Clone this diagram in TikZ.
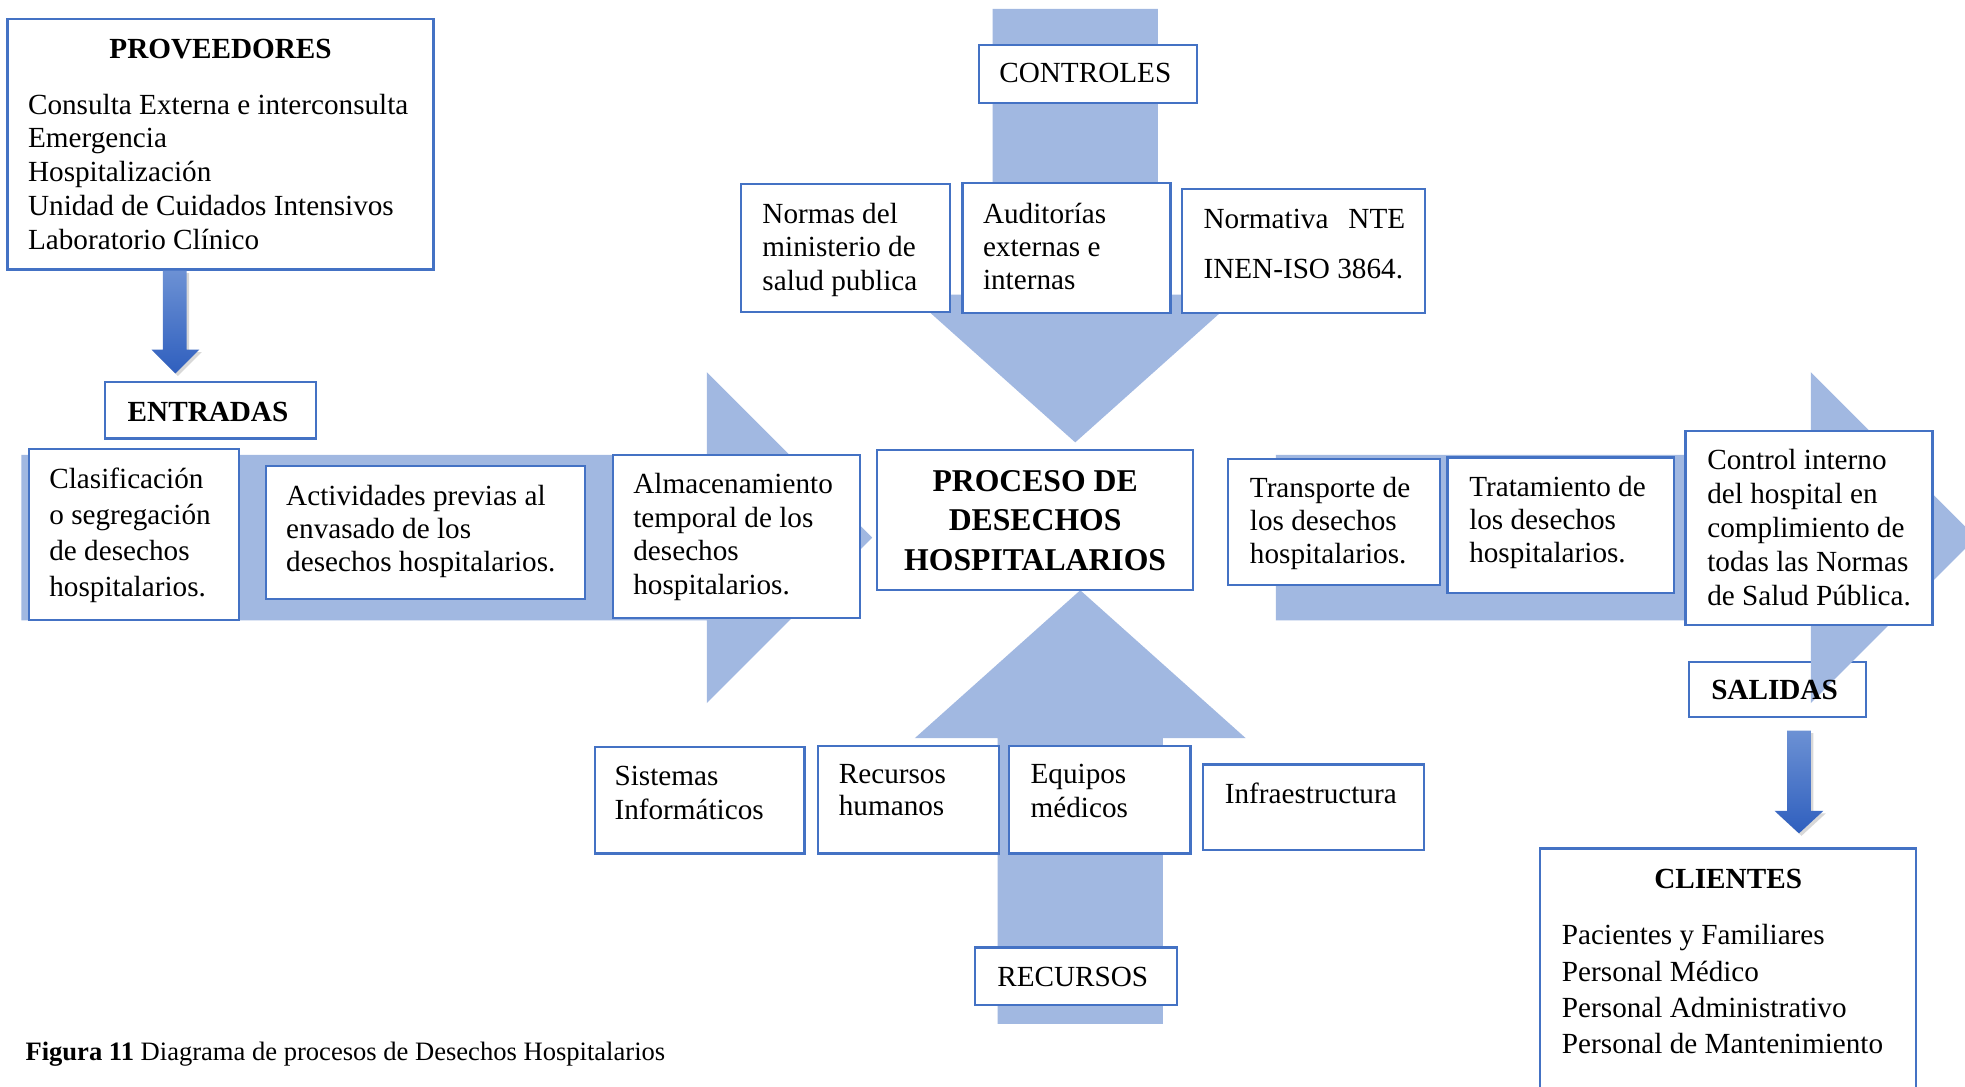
\documentclass[tikz,border=0pt]{standalone}
\usepackage{fontspec}
\setmainfont{Liberation Serif}
\usetikzlibrary{fit,shadows}
\definecolor{flow}{RGB}{161,184,225}
\definecolor{edge}{RGB}{68,114,196}
\definecolor{dropA}{RGB}{108,145,212}
\definecolor{dropB}{RGB}{47,95,190}
% multi-line text block whose base anchor is the first baseline
\newcommand\textlines[2]{\fontsize{11.65}{#1}\selectfont\begin{tabular}[t]{@{}l@{}}#2\end{tabular}}
\tikzset{
  box/.style={draw=edge, line width=0.9pt, fill=white, inner sep=0pt},
  openbox/.style={draw=edge, line width=0.9pt, inner sep=0pt},
  body/.style={anchor=base west, inner sep=0pt, font=\fontsize{11.65}{13.5}\selectfont},
  heading/.style={anchor=base, inner sep=0pt, font=\fontsize{11.65}{13.5}\selectfont\bfseries},
  plainhead/.style={anchor=base, inner sep=0pt, font=\fontsize{11.65}{13.5}\selectfont},
  flowarrow/.style={fill=flow, draw=none},
  droparrow/.style={top color=dropA, bottom color=dropB, draw=none,
    drop shadow={opacity=0.3, shadow xshift=1pt, shadow yshift=-1pt}}
}
\begin{document}
\begin{tikzpicture}[x=0.5pt, y=-0.5pt]
\useasboundingbox (0,0) rectangle (1568,867);
\clip (0,0) rectangle (1568,867);
\fill[white] (0,0) rectangle (1568,867);

% outputs frame, lying under the right-hand arrow head
\node[openbox, fit={(1348,528) (1489,572)}] (sal) {};

% wide background arrows
\path[flowarrow] (792,7) -- (924,7) -- (924,235) -- (990,235) -- (858,353)
  -- (726,235) -- (792,235) -- cycle;
\path[flowarrow] (796,817) -- (928,817) -- (928,589) -- (994,589) -- (862,471)
  -- (730,589) -- (796,589) -- cycle;
\path[flowarrow] (17,363) -- (564,363) -- (564,297) -- (696,429) -- (564,561)
  -- (564,495) -- (17,495) -- cycle;
\path[flowarrow] (1018,363) -- (1445,363) -- (1445,297) -- (1577,429) -- (1445,561)
  -- (1445,495) -- (1018,495) -- cycle;

% suppliers
\node[box, fit={(6,15) (346,215)}] (prov) {};
\node[heading] (provT) at (176,47) {PROVEEDORES};
\node[body] (provL) at (22,91) {\textlines{13.5}{Consulta Externa e interconsulta\\Emergencia\\Hospitalización\\Unidad de Cuidados Intensivos\\Laboratorio Clínico}};

\path[droparrow] (130,216) -- (149,216) -- (149,279) -- (159,279) -- (140,298)
  -- (121,279) -- (130,279) -- cycle;

% inputs
\node[box, fit={(84,305) (252,350)}] (entr) {};
\node[heading] (entrT) at (166,336) {ENTRADAS};

\node[box, fit={(23,358) (191,495)}] (clas) {};
\node[body] (clasL) at (39,390) {\textlines{14.35}{Clasificación\\o segregación\\de desechos\\hospitalarios.}};

\node[box, fit={(212,372) (467,478)}] (act) {};
\node[body] (actL) at (228,403) {\textlines{13.25}{Actividades previas al\\envasado de los\\desechos hospitalarios.}};

\node[box, fit={(489,363) (686,493)}] (alm) {};
\node[body] (almL) at (505,394) {\textlines{13.35}{Almacenamiento\\temporal de los\\desechos\\hospitalarios.}};

% central process
\node[box, fit={(700,359) (952,471)}] (proc) {};
\node[anchor=base, inner sep=0pt] (procT) at (826,392)
  {\fontsize{12.65}{15.75}\selectfont\bfseries\begin{tabular}[t]{@{}c@{}}PROCESO DE\\DESECHOS\\HOSPITALARIOS\end{tabular}};

% controls
\node[box, fit={(781,36) (955,82)}] (ctrl) {};
\node[plainhead] (ctrlT) at (866,66) {CONTROLES};

\node[box, fit={(591,147) (758,249)}] (normas) {};
\node[body] (normasL) at (608,178) {\textlines{13.5}{Normas del\\ministerio de\\salud publica}};

\node[box, fit={(768,146) (934,250)}] (audit) {};
\node[body] (auditL) at (784,178) {\textlines{13.25}{Auditorías\\externas e\\internas}};

\node[box, fit={(943,151) (1137,250)}] (nte) {};
\node[body] (nteL) at (960,182) {\textlines{20}{Normativa\hspace{8pt}NTE\\INEN-ISO 3864.}};

% outputs
\node[box, fit={(980,366) (1149,467)}] (trans) {};
\node[body] (transL) at (997,397) {\textlines{13.25}{Transporte de\\los desechos\\hospitalarios.}};

\node[box, fit={(1155,365) (1336,473)}] (trat) {};
\node[body] (tratL) at (1172,396) {\textlines{13.25}{Tratamiento de\\los desechos\\hospitalarios.}};

\node[box, fit={(1345,344) (1542,499)}] (ctlint) {};
\node[body] (ctlintL) at (1362,375) {\textlines{13.5}{Control interno\\del hospital en\\complimiento de\\todas las Normas\\de Salud Pública.}};

\node[heading] (salT) at (1416,558) {SALIDAS};

\path[droparrow] (1426,583) -- (1445,583) -- (1445,647) -- (1455,647) -- (1435.5,665)
  -- (1416,647) -- (1426,647) -- cycle;

% customers
\node[box, fit={(1229,677) (1529,890)}] (cli) {};
\node[heading] (cliT) at (1379,709) {CLIENTES};
\node[body] (cliL) at (1246,754) {\textlines{14.5}{Pacientes y Familiares\\Personal Médico\\Personal Administrativo\\Personal de Mantenimiento}};

% resources
\node[box, fit={(475,596) (642,681)}] (sist) {};
\node[body] (sistL) at (490,627) {\textlines{13.5}{Sistemas\\Informáticos}};

\node[box, fit={(653,595) (797,681)}] (rh) {};
\node[body] (rhL) at (669,625) {\textlines{13}{Recursos\\humanos}};

\node[box, fit={(805,595) (950,681)}] (eq) {};
\node[body] (eqL) at (822,625) {\textlines{13.5}{Equipos\\médicos}};

\node[box, fit={(960,610) (1136,678)}] (infra) {};
\node[body] (infraL) at (977,641) {Infraestructura};

\node[box, fit={(778,756) (939,802)}] (rec) {};
\node[plainhead] (recT) at (856,787) {RECURSOS};

% caption
\node[anchor=base west, inner sep=0pt, font=\fontsize{10.6}{12}\selectfont] (cap) at (20,846)
  {\textbf{Figura 11} Diagrama de procesos de Desechos Hospitalarios};
\end{tikzpicture}
\end{document}
